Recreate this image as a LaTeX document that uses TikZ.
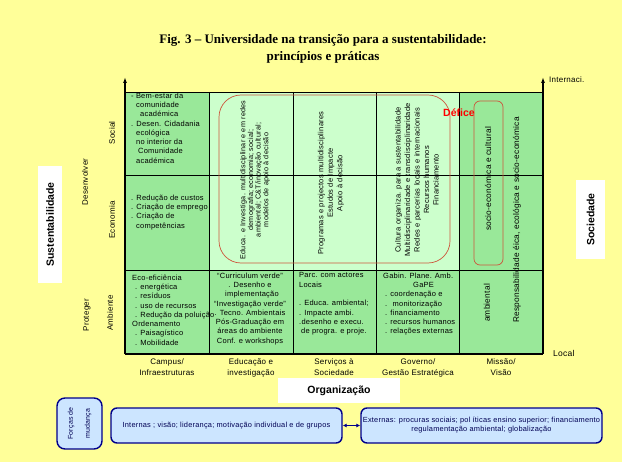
\documentclass[tikz,border=0pt]{standalone}
\usepackage{fontspec}
\setmainfont{Liberation Sans}[LetterSpace=3]
\newfontfamily\titlefont{Liberation Serif}
\newfontfamily\boldsans{Liberation Sans}[LetterSpace=0]
\usepackage{tikz}
\usetikzlibrary{arrows.meta, positioning, calc}
\definecolor{bgyellow}{RGB}{255,255,153}
\definecolor{cellgreen}{RGB}{153,232,153}
\definecolor{palegreen}{RGB}{204,255,204}
\definecolor{deficered}{RGB}{204,85,60}
\definecolor{forcesblue}{RGB}{204,229,255}
\definecolor{forcesline}{RGB}{0,0,140}

\tikzset{
  celltext/.style={font=\fontsize{7.5}{9.3}\selectfont, inner sep=0pt, align=left},
  celltextc/.style={celltext, align=center},
  vertext/.style={font=\fontsize{7.5}{9.5}\selectfont, inner sep=0pt, align=center, rotate=90},
  missaotext/.style={font=\fontsize{8.3}{9.5}\selectfont, inner sep=0pt, rotate=90},
  axislabel/.style={font=\fontsize{8}{9.5}\selectfont, inner sep=0pt, rotate=90},
  collabel/.style={font=\fontsize{8}{11}\selectfont, inner sep=0pt, align=center},
  whitebox/.style={fill=white, font=\fontsize{10.5}{12}\selectfont\boldsans\bfseries, inner sep=0pt},
  forcebox/.style={draw=forcesline, fill=forcesblue, line width=1.4pt, rounded corners=6pt,
    inner sep=0pt, font=\fontsize{7.4}{9}\selectfont, text=forcesline!60!black, align=center},
  forcearrow/.style={draw=forcesline, line width=1pt,
    {Latex[length=4pt,width=4pt]}-{Latex[length=4pt,width=4pt]}},
  deficebox/.style={draw=deficered, line width=0.7pt},
  axisline/.style={line width=1.4pt},
  gridline/.style={line width=0.6pt}
}

\begin{document}
\begin{tikzpicture}[x=1pt,y=-1pt]
\useasboundingbox (0,0) rectangle (626,462);
\fill[white] (0,0) rectangle (626,462);
\fill[bgyellow] (0,0) rectangle (622,462);

% title
\node[font=\fontsize{13}{17}\selectfont\titlefont\bfseries, align=center, inner sep=0pt] (title) at (323,48.5)
  {Fig. 3 – Universidade na transição para a sustentabilidade:\\princípios e práticas};

% cells
\fill[cellgreen] (125,92) rectangle (209,354);
\fill[palegreen] (209,92) rectangle (459,270);
\fill[cellgreen] (209,270) rectangle (459,354);
\fill[cellgreen] (459,92) rectangle (543,354);

% grid
\draw[gridline] (125,92) -- (543,92);
\draw[gridline] (125,175) -- (543,175);
\draw[gridline] (125,270) -- (543,270);
\draw[gridline] (209,92) -- (209,354);
\draw[gridline] (293,92) -- (293,354);
\draw[gridline] (376,92) -- (376,354);
\draw[gridline] (459,92) -- (459,354);

% axes
\coordinate (origin) at (125,354);
\coordinate (sustop) at (125,77);
\coordinate (localend) at (543,354);
\coordinate (internacitop) at (543,77);
\draw[axisline, -{Latex[length=6pt,width=4pt]}] (origin) -- (sustop);
\draw[axisline] (origin) -- (localend);
\draw[axisline, -{Latex[length=6pt,width=4pt]}] (localend) -- (internacitop);
\node[font=\fontsize{8}{9}\selectfont, anchor=west, inner sep=0pt] (internaci) at (549,80) {Internaci.};
\node[font=\fontsize{8.5}{9}\selectfont, anchor=west, inner sep=0pt] (local) at (553,353) {Local};

% campus column
\node[celltext, anchor=north west] (campussocial) at (131,92.5)
  {- Bem-estar da\\ \hspace*{5pt}comunidade\\ \hspace*{9pt}académica\\ . Desen. Cidadania\\
   \hspace*{5pt}ecológica\\ \hspace*{5pt}no interior da\\ \hspace*{7pt}Comunidade\\ \hspace*{5pt}académica};
\node[celltext, anchor=north west] (campuseconomia) at (131,194.5)
  {. Redução de custos\\ . Criação de emprego\\ . Criação de\\ \hspace*{5pt}competências};
\node[celltext, anchor=north west] (campusambiente) at (132,274.5)
  {Eco-eficiência\\ \hspace*{3pt}. energética\\ \hspace*{3pt}. resíduos\\ \hspace*{3pt}. uso de recursos\\
   \hspace*{3pt}. Redução da poluição\\ Ordenamento\\ \hspace*{3pt}. Paisagístico\\ \hspace*{3pt}. Mobilidade};

% bottom row
\node[celltextc, anchor=north] (educambiente) at (250,272.5)
  {“Curriculum verde”\\ . Desenho e\\ \hspace*{4pt}implementação\\ “Investigação verde”\\ . Tecno. Ambientais\\
   Pós-Graduação em\\ áreas do ambiente\\ Conf. e workshops};
\node[celltext, anchor=north west] (servambiente) at (299,272.5)
  {Parc. com actores\\ Locais\\[9.3pt] . Educa. ambiental;\\ . Impacte ambi.\\ .desenho e execu.\\
   \hspace*{2pt}de progra. e proje.};
\node[celltext, anchor=north west] (govambiente) at (383,272.5)
  {Gabin. Plane. Amb.\\ \hspace*{30pt}GaPE\\ \hspace*{2pt}. coordenação e\\ \hspace*{2pt}. \ monitorização\\
   \hspace*{2pt}. financiamento\\ \hspace*{2pt}. recursos humanos\\ \hspace*{2pt}. relações externas};

% vertical texts across Social and Economia
\node[vertext, font=\fontsize{7.2}{7.6}\selectfont] (educdesenv) at (255,180)
  {Educa. e Investiga. multidisciplinar e em redes\\ demografia; economia; social;\\
   ambiental; C\&T/inovação cultural;\\ modelos de apoio à decisão};
\node[vertext] (servdesenv) at (331,183)
  {Programas e projectos multidisciplinares\\ Estudos de Impacte\\ Apoio à decisão};
\node[vertext] (govdesenv) at (417,180)
  {Cultura organiza. para a sustentabilidade\\ Multidisciplinaridade e transdisciplinaridade\\
   Redes e parcerias locais e internacionais\\ Recursos humanos\\ Financiamento};

% missao column
\node[missaotext] (missaosocio) at (488,179) {socio-económica e cultural};
\node[missaotext] (missaoamb) at (487,303) {ambiental};
\node[missaotext] (missaoresp) at (517,220) {Responsabilidade éica, ecológica e socio-económica};

% defice
\draw[deficebox, rounded corners=22pt] (219,95) rectangle (450,263);
\draw[deficebox, rounded corners=6pt] (474,101) rectangle (503,265);
\node[font=\fontsize{10.5}{12}\selectfont\boldsans\bfseries, text=red, inner sep=0pt] (defice) at (459,113) {Défice};

% side labels
\node[axislabel] (social) at (112,133) {Social};
\node[axislabel] (economia) at (112,220) {Economia};
\node[axislabel] (ambiente) at (110,313) {Ambiente};
\node[axislabel] (desenvolver) at (85,182) {Desenvolver};
\node[axislabel] (proteger) at (87,315) {Proteger};
\node[whitebox, rotate=90, minimum width=117pt, minimum height=24pt] (sustentab) at (50,224.5) {Sustentabilidade};
\node[whitebox, rotate=90, minimum width=79pt, minimum height=29pt] (sociedade) at (590.5,219.5) {Sociedade};

% column labels
\node[collabel] (campus) at (167,367.5) {Campus/\\Infraestruturas};
\node[collabel] (educacao) at (251,367.5) {Educação e\\investigação};
\node[collabel] (servicos) at (334,367.5) {Serviços à\\Sociedade};
\node[collabel] (governo) at (418,367.5) {Governo/\\Gestão Estratégica};
\node[collabel] (missao) at (501,367.5) {Missão/\\Visão};
\node[whitebox, minimum width=122pt, minimum height=25pt] (organizacao) at (339,390.5) {Organização};

% forcas de mudanca
\node[forcebox, rotate=90, rounded corners=8pt, minimum width=51pt, minimum height=45pt,
  font=\fontsize{7}{17}\selectfont] (forcas) at (79.5,423.5) {Forças de\\mudança};
\node[forcebox, minimum width=231pt, minimum height=35pt] (internas) at (226.5,425.5)
  {Internas ; visão; liderança; motivação individual e de grupos};
\node[forcebox, minimum width=241pt, minimum height=35pt] (externas) at (481.5,425.5)
  {Externas: procuras sociais; pol íticas ensino superior; financiamento\\ regulamentação ambiental; globalização};
\draw[forcearrow] (internas) -- (externas);
\end{tikzpicture}
\end{document}
